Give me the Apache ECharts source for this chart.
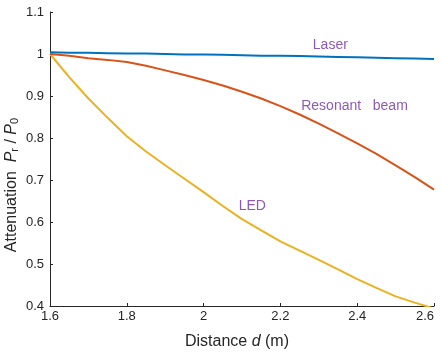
<!DOCTYPE html>
<html>
<head>
<meta charset="UTF-8"/>
<title>Attenuation</title>
<script src="https://cdn.jsdelivr.net/npm/echarts@6/dist/echarts.min.js"></script>
<style>
body{margin:0;background:#fff;}
#main{width:443px;height:354px;}
</style>
</head>
<body>
<div id="main"></div>
<script type="text/javascript">
// distances (m)
var dist = [1.6, 1.65, 1.7, 1.75, 1.8, 1.85, 1.9, 1.95, 2.0, 2.05, 2.1, 2.15, 2.2, 2.25, 2.3, 2.35, 2.4, 2.45, 2.5, 2.55, 2.6];
// attenuation Pr/P0 per source
var laser = [1.004, 1.003, 1.003, 1.002, 1.001, 1.001, 1.000, 0.999, 0.999, 0.998, 0.997, 0.996, 0.996, 0.995, 0.994, 0.993, 0.992, 0.991, 0.990, 0.989, 0.988];
var resonant = [1.000, 0.996, 0.990, 0.986, 0.981, 0.972, 0.961, 0.950, 0.938, 0.925, 0.910, 0.894, 0.876, 0.856, 0.834, 0.811, 0.787, 0.762, 0.735, 0.707, 0.677];
var led = [1.000, 0.945, 0.894, 0.848, 0.804, 0.768, 0.735, 0.703, 0.671, 0.638, 0.607, 0.580, 0.554, 0.532, 0.510, 0.487, 0.464, 0.443, 0.423, 0.408, 0.394];
// text labels placed in data units
var noteText = ['Laser', 'Resonant   beam', 'LED'];
var noteX = [2.33, 2.393, 2.127];
var noteY = [1.021, 0.876, 0.638];
var xTicks = {min: 1.6, max: 2.6, step: 0.2};
var yTicks = {min: 0.4, max: 1.1, step: 0.1};

function pairs(ys){
    var out = [];
    for(var i=0;i<dist.length;i++){
        out.push([dist[i], ys[i]]);
    }
    return out;
}
var notes = [];
for(var i=0;i<noteText.length;i++){
    notes.push({value:[noteX[i], noteY[i]], name:noteText[i]});
}

var axisColor = '#262626';
var font = 'Liberation Sans, Arial, sans-serif';

var myChart = echarts.init(document.getElementById('main'));
var option = {
    animation: false,
    grid: {left: 50, right: 9, top: 12, bottom: 48, containLabel: false, outerBoundsMode: 'none'},
    xAxis: {
        type: 'value',
        min: xTicks.min, max: xTicks.max, interval: xTicks.step,
        splitLine: {show: false},
        axisLine: {lineStyle: {color: axisColor, width: 1}},
        axisTick: {inside: true, length: 3, lineStyle: {color: axisColor}},
        axisLabel: {color: axisColor, fontSize: 13, fontFamily: font, margin: 4, alignMaxLabel: 'right'},
        name: '{a|Distance }{i|d}{a| (m)}',
        nameLocation: 'middle',
        nameGap: 28,
        nameTextStyle: {
            padding: [0, 10, 0, 0],
            rich: {
                a: {fontSize: 16, color: axisColor, fontFamily: font},
                i: {fontSize: 16, color: axisColor, fontFamily: font, fontStyle: 'italic'}
            }
        }
    },
    yAxis: {
        type: 'value',
        min: yTicks.min, max: yTicks.max, interval: yTicks.step,
        splitLine: {show: false},
        axisLine: {show: true, lineStyle: {color: axisColor, width: 1}},
        axisTick: {show: true, inside: true, length: 3, lineStyle: {color: axisColor}},
        axisLabel: {color: axisColor, fontSize: 13, fontFamily: font, margin: 6},
        name: '{a|Attenuation  }{i|P}{s|r}{a| / }{i|P}{s|0}',
        nameLocation: 'middle',
        nameRotate: 90,
        nameGap: 30,
        nameMoveOverlap: false,
        nameTextStyle: {
            padding: [0, 0, 0, -52],
            rich: {
                a: {fontSize: 16, color: axisColor, fontFamily: font, verticalAlign: 'bottom', lineHeight: 20},
                i: {fontSize: 16, color: axisColor, fontFamily: font, fontStyle: 'italic', verticalAlign: 'bottom', lineHeight: 20},
                s: {fontSize: 11, color: axisColor, fontFamily: font, verticalAlign: 'bottom', lineHeight: 13}
            }
        }
    },
    series: [
        {
            name: 'Laser', type: 'line', data: pairs(laser),
            showSymbol: false, lineStyle: {color: '#0072BD', width: 2}, itemStyle: {color: '#0072BD'}, z: 3
        },
        {
            name: 'Resonant beam', type: 'line', data: pairs(resonant),
            showSymbol: false, lineStyle: {color: '#D95319', width: 2}, itemStyle: {color: '#D95319'}, z: 2
        },
        {
            name: 'LED', type: 'line', data: pairs(led), clip: true,
            showSymbol: false, lineStyle: {color: '#EDB120', width: 2}, itemStyle: {color: '#EDB120'}, z: 1
        },
        {
            // text notes next to each curve
            type: 'scatter', data: notes, symbolSize: 0, silent: true,
            label: {
                show: true, position: 'inside', color: '#7030A0', fontSize: 14, fontFamily: font,
                formatter: function(p){ return p.name; }
            }
        }
    ]
};
myChart.setOption(option);
</script>
</body>
</html>
